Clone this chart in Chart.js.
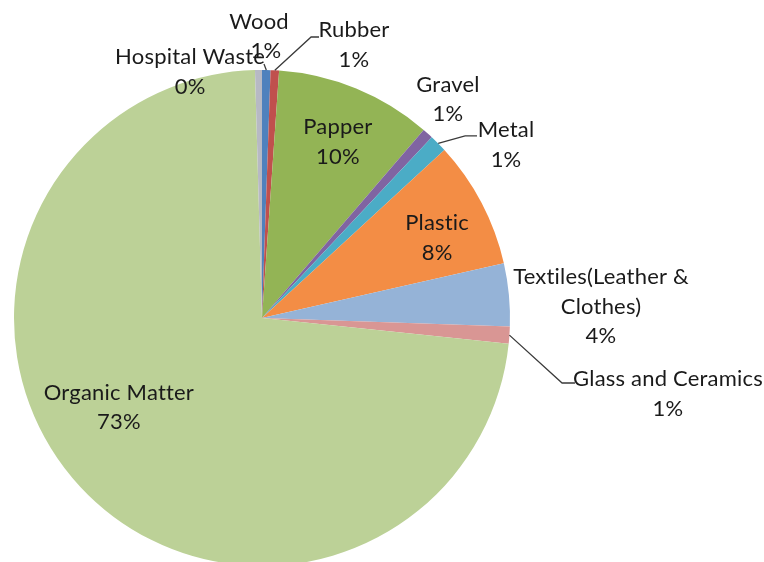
<!DOCTYPE html>
<html><head><meta charset="utf-8">
<script src="https://cdn.jsdelivr.net/npm/chart.js@4/dist/chart.umd.min.js"></script>
<style>html,body{margin:0;padding:0;background:#fff;overflow:hidden;width:764px;height:562px}</style>
</head><body>
<canvas id="c" width="764" height="600"></canvas>
<script>
const categories = ["Wood","Rubber","Papper","Gravel","Metal","Plastic","Textiles(Leather & Clothes)","Glass and Ceramics","Organic Matter","Hospital Waste"];
const shares = [0.55, 0.55, 10.2, 0.7, 1.15, 8.3, 4.1, 1.1, 72.9, 0.45];
const labelLines = [["Wood"],["Rubber"],["Papper"],["Gravel"],["Metal"],["Plastic"],["Textiles(Leather &","Clothes)"],["Glass and Ceramics"],["Organic Matter"],["Hospital Waste"]];
const colors = ["#4F81BD","#C0504D","#93B455","#8064A2","#4BACC6","#F38D45","#95B3D7","#D99694","#BCD197","#B7B9C4"];

// label placement relative to pie centre, in units of radius
const labelPos = [[-0.012,-1.194],[0.371,-1.161],[0.306,-0.770],[0.75,-0.940],[0.984,-0.758],[0.706,-0.383],[1.367,-0.165],[1.637,0.246],[-0.577,0.302],[-0.290,-1.052]];
// per-label horizontal shift of the percentage line (fraction of radius)
const pctShift = [0.028,0,0,0,0,0,0,0,0,0];
// leader lines: list of points after the slice edge point (fractions of radius)
const leaders = {0:[[0.008,-1.024]],1:[[0.198,-1.133],[0.230,-1.133]],4:[[0.819,-0.734],[0.867,-0.734]],7:[[1.210,0.262],[1.262,0.262]]};

const total = shares.reduce((a,b)=>a+b,0);
const FONT = '22px Lato';
const LH = 29.5;

const labelPlugin = {
  id:'pieLabels',
  afterDatasetsDraw(chart){
    const ctx = chart.ctx;
    const meta = chart.getDatasetMeta(0);
    ctx.save();
    ctx.strokeStyle = '#3a3a3a';
    ctx.lineWidth = 1.3;
    meta.data.forEach((arc,i)=>{
      const L = leaders[i];
      if(!L) return;
      const R = arc.outerRadius, cx = arc.x, cy = arc.y;
      const mid = (arc.startAngle+arc.endAngle)/2;
      ctx.beginPath();
      ctx.moveTo(cx+R*Math.cos(mid), cy+R*Math.sin(mid));
      L.forEach(p=>ctx.lineTo(cx+p[0]*R, cy+p[1]*R));
      ctx.stroke();
    });
    ctx.font = FONT;
    if ('letterSpacing' in ctx) ctx.letterSpacing = '0.2px';
    ctx.fillStyle = '#1a1a1a';
    ctx.textAlign = 'center';
    ctx.textBaseline = 'middle';
    meta.data.forEach((arc,i)=>{
      const R = arc.outerRadius, cx = arc.x, cy = arc.y;
      const x = cx + labelPos[i][0]*R, y = cy + labelPos[i][1]*R;
      const lines = labelLines[i];
      lines.forEach((t,k)=>ctx.fillText(t, x, y + k*LH));
      ctx.fillText(Math.round(shares[i]/total*100)+'%', x + pctShift[i]*R, y + lines.length*LH);
    });
    ctx.restore();
  }
};

new Chart(document.getElementById('c'), {
  type:'pie',
  data:{labels:categories, datasets:[{data:shares, backgroundColor:colors, borderWidth:0}]},
  options:{
    responsive:false, animation:false, devicePixelRatio:1,
    layout:{padding:{left:14,right:254,top:70,bottom:34}},
    plugins:{legend:{display:false}, tooltip:{enabled:false}}
  },
  plugins:[labelPlugin]
});
</script>
</body></html>
